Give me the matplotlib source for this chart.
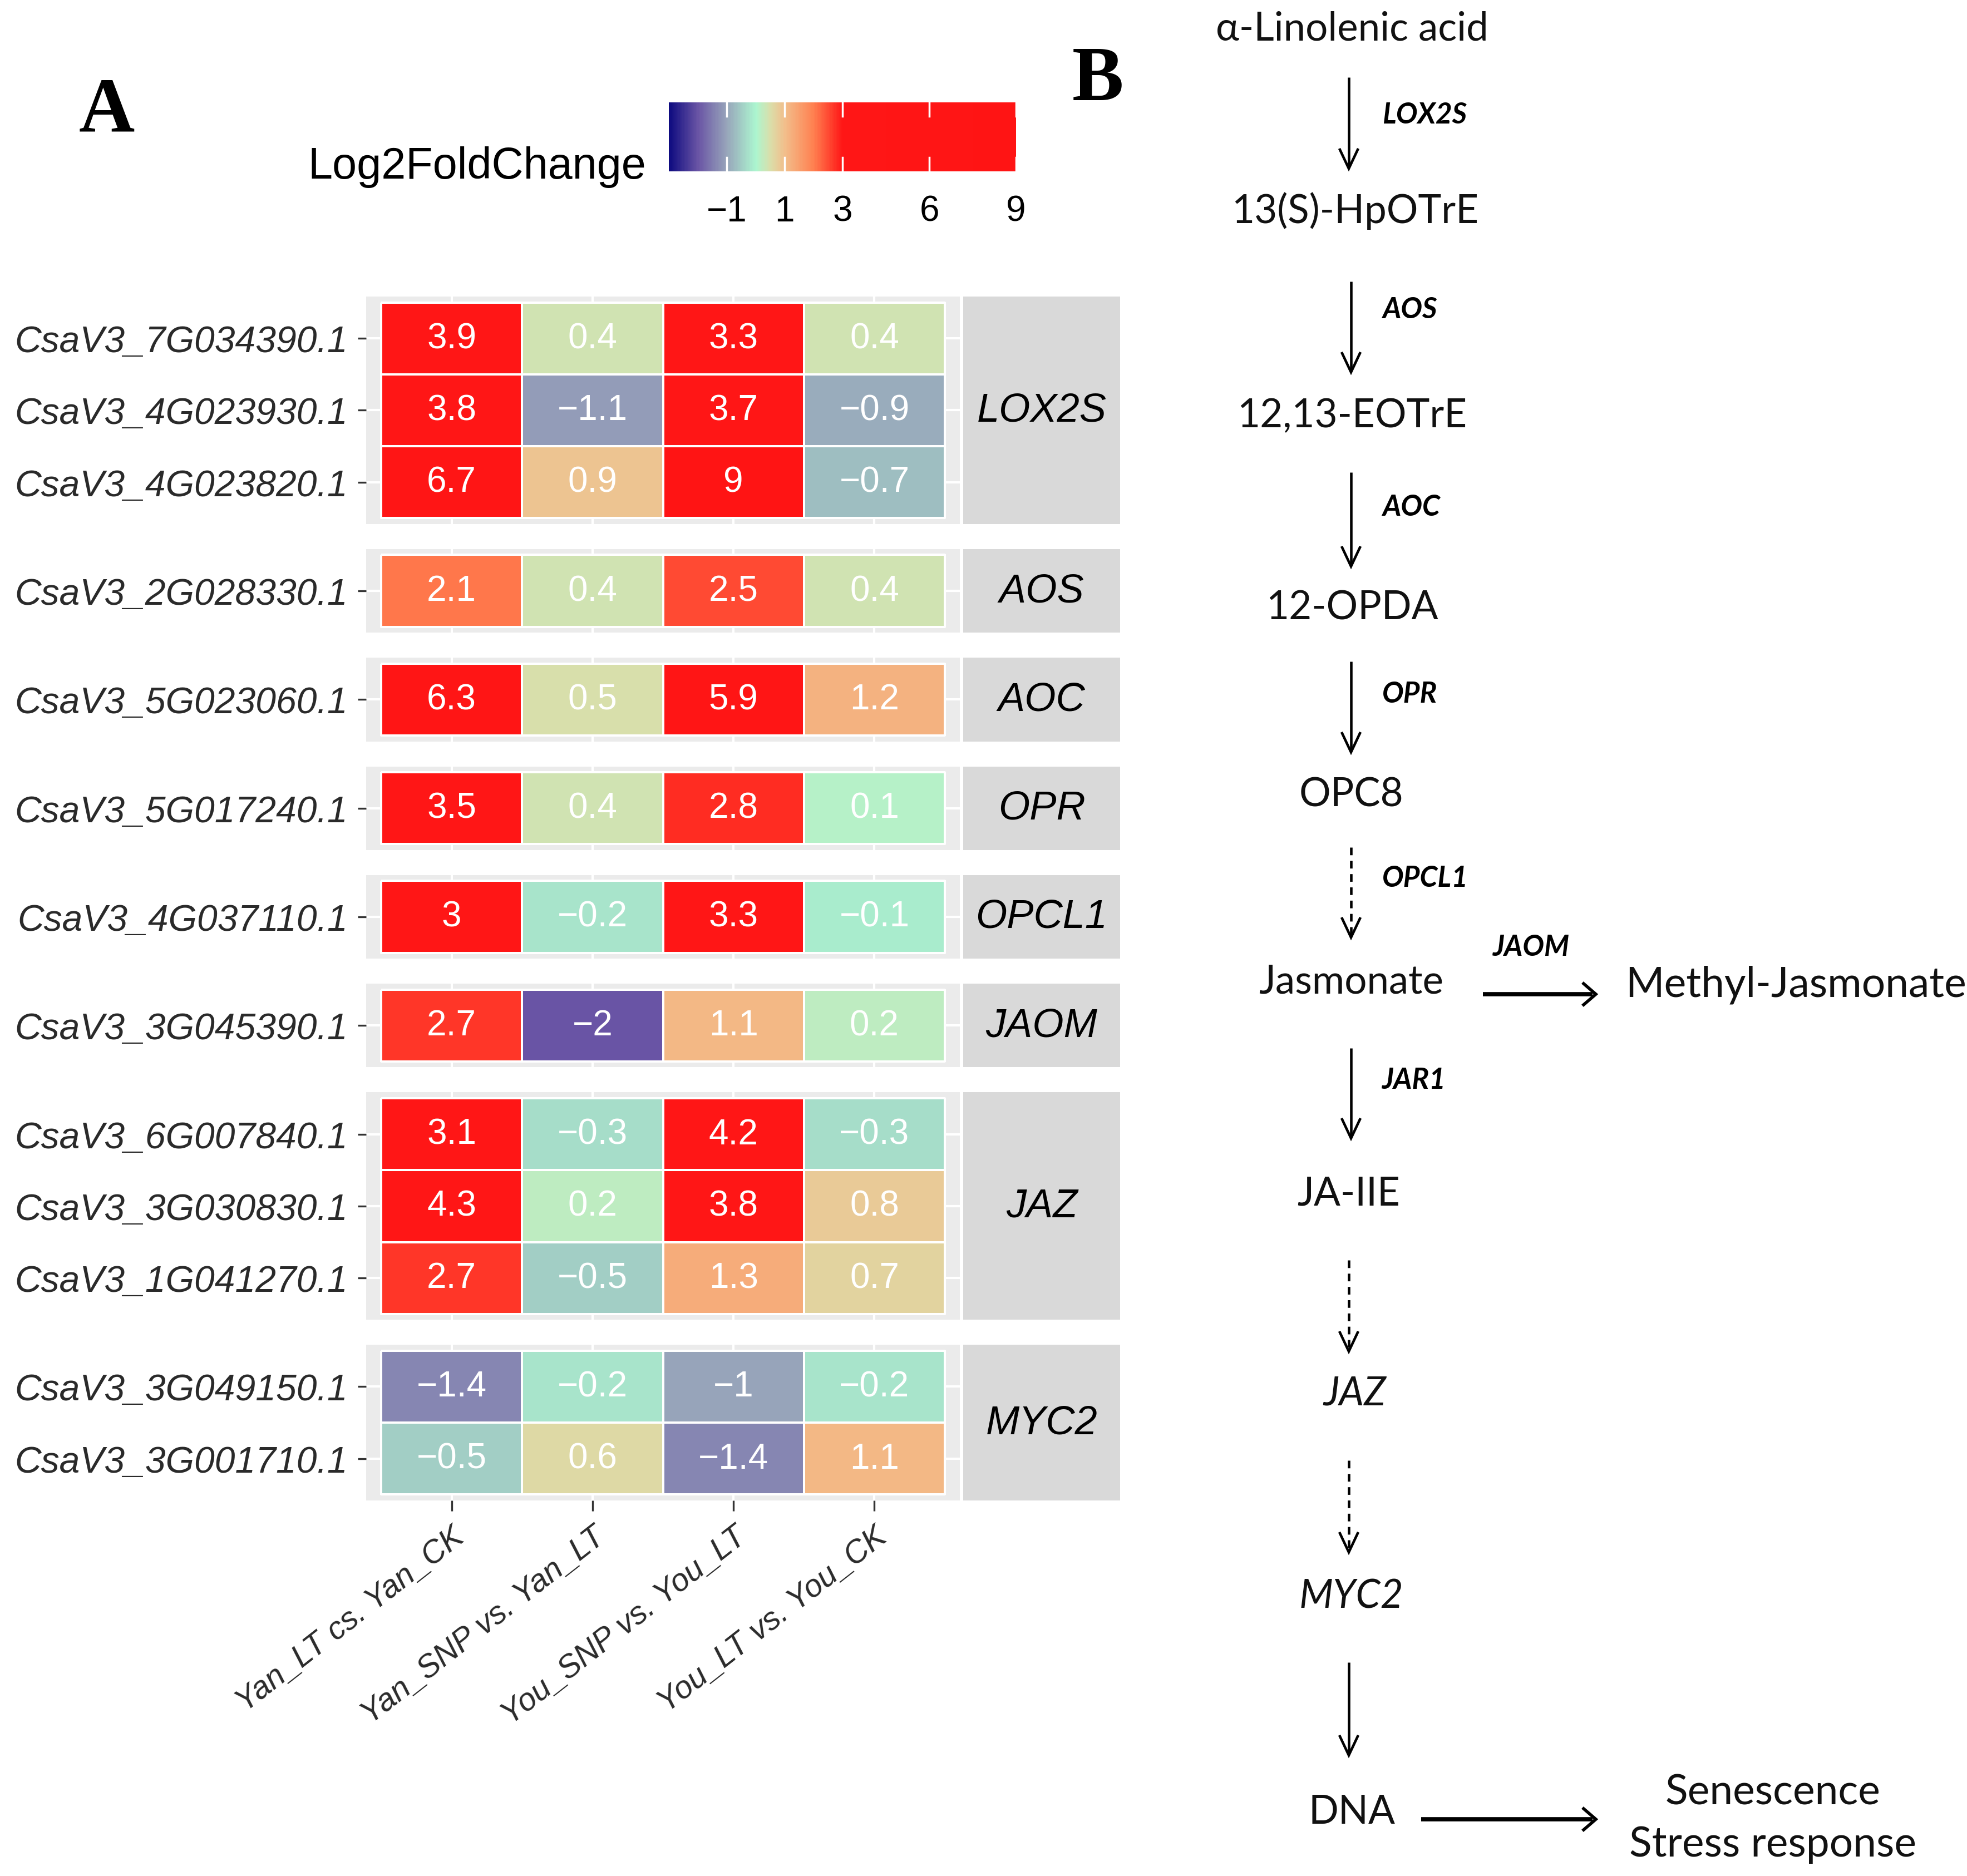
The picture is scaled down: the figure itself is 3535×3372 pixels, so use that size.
import numpy as np
import matplotlib
matplotlib.use("Agg")
import matplotlib.pyplot as plt
from matplotlib.colors import LinearSegmentedColormap, Normalize
import matplotlib.cm as cm

# ---------------- data ----------------
groups = ["LOX2S", "AOS", "AOC", "OPR", "OPCL1", "JAOM", "JAZ", "MYC2"]
group_genes = [
    ["CsaV3_7G034390.1", "CsaV3_4G023930.1", "CsaV3_4G023820.1"],
    ["CsaV3_2G028330.1"],
    ["CsaV3_5G023060.1"],
    ["CsaV3_5G017240.1"],
    ["CsaV3_4G037110.1"],
    ["CsaV3_3G045390.1"],
    ["CsaV3_6G007840.1", "CsaV3_3G030830.1", "CsaV3_1G041270.1"],
    ["CsaV3_3G049150.1", "CsaV3_3G001710.1"],
]
comparisons = ["Yan_LT cs. Yan_CK", "Yan_SNP vs. Yan_LT",
               "You_SNP vs. You_LT", "You_LT vs. You_CK"]
# values per comparison, in gene order (13 genes)
yan_lt_vs_ck   = [3.9, 3.8, 6.7, 2.1, 6.3, 3.5, 3.0, 2.7, 3.1, 4.3, 2.7, -1.4, -0.5]
yan_snp_vs_lt  = [0.4, -1.1, 0.9, 0.4, 0.5, 0.4, -0.2, -2.0, -0.3, 0.2, -0.5, -0.2, 0.6]
you_snp_vs_lt  = [3.3, 3.7, 9.0, 2.5, 5.9, 2.8, 3.3, 1.1, 4.2, 3.8, 1.3, -1.0, -1.4]
you_lt_vs_ck   = [0.4, -0.9, -0.7, 0.4, 1.2, 0.1, -0.1, 0.2, -0.3, 0.8, 0.7, -0.2, 1.1]
cbar_ticks = [-1, 1, 3, 6, 9]
VMIN, VMAX = -3, 9

values = np.array([yan_lt_vs_ck, yan_snp_vs_lt, you_snp_vs_lt, you_lt_vs_ck]).T

# pathway diagram content
metabolites = ["α-Linolenic acid", "13(S)-HpOTrE", "12,13-EOTrE", "12-OPDA", "OPC8",
               "Jasmonate", "JA-IIE", "JAZ", "MYC2", "DNA"]
enzymes = ["LOX2S", "AOS", "AOC", "OPR", "OPCL1", "JAR1", "", "", ""]
step_dashed = [False, False, False, False, True, False, True, True, False]

# ---------------- styling ----------------
W, H, DPI = 3535, 3373, 100
fig = plt.figure(figsize=(W / DPI, H / DPI), dpi=DPI)
fig.patch.set_facecolor("white")
SANS = ["Liberation Sans", "DejaVu Sans"]
PATH_FONT = ["Lato", "DejaVu Sans"]


def px_axes(x0, y0, x1, y1, **kw):
    return fig.add_axes([x0 / W, 1 - y1 / H, (x1 - x0) / W, (y1 - y0) / H], **kw)


stops = [(-3, "#0E0B80"), (-2, "#6A55A5"), (-1, "#98A6BA"), (0, "#ACF6D0"),
         (0.5, "#DADEAA"), (1, "#F2BE8B"), (2, "#FF8050"), (3, "#FF1616"), (9, "#FF1414")]
cmap = LinearSegmentedColormap.from_list(
    "l2fc", [((v - VMIN) / (VMAX - VMIN), c) for v, c in stops])
norm = Normalize(VMIN, VMAX)

# overlay axes in pixel coordinates
ax0 = fig.add_axes([0, 0, 1, 1])
ax0.set_xlim(0, W)
ax0.set_ylim(H, 0)
ax0.axis("off")
ax0.patch.set_alpha(0)


def fmt(v):
    s = f"{v:g}"
    return s.replace("-", "\u2212")


# ---------------- heatmap panels ----------------
row_pitch = 129.3
ey_px = 10.5
gap_px = 45
px_left, px_right = 658, 1725
cell_w = 254.25
ex = 27 / cell_w
strip_l, strip_r = 1731, 2013

y = 534
gi = 0
for k, (g, genes) in enumerate(zip(groups, group_genes)):
    n = len(genes)
    h = n * row_pitch + 2 * ey_px
    ax = px_axes(px_left, y, px_right, y + h)
    ax.set_facecolor("#EBEBEB")
    vals = values[gi:gi + n]
    ax.pcolormesh(np.arange(5) - 0.5, np.arange(n + 1) - 0.5, vals, cmap=cmap, norm=norm,
                  edgecolors="white", linewidth=1.6, zorder=2)
    for i in range(n):
        for j in range(4):
            ax.text(j, i, fmt(vals[i, j]), ha="center", va="center", color="white",
                    fontsize=46, family=SANS, zorder=3)
    ax.set_xlim(-0.5 - ex, 3.5 + ex)
    ey = ey_px / row_pitch
    ax.set_ylim(n - 0.5 + ey, -0.5 - ey)
    ax.set_xticks(range(4))
    ax.set_yticks(range(n))
    ax.grid(True, color="white", lw=3.0, zorder=1)
    ax.set_axisbelow(True)
    for sp in ax.spines.values():
        sp.set_visible(False)
    ax.set_yticklabels(genes, fontstyle="italic", fontsize=47.5, color="#2A2A2A", family=SANS)
    ax.tick_params(axis="y", length=10.5, width=2.4, color="#333333", pad=13)
    if k == len(groups) - 1:
        ax.set_xticklabels(comparisons, rotation=38, ha="right", va="top",
                           rotation_mode="anchor", fontstyle="italic", fontsize=41,
                           color="#2A2A2A", family=SANS)
        ax.tick_params(axis="x", length=14, width=2.4, color="#333333", pad=13)
    else:
        ax.tick_params(axis="x", length=0, labelbottom=False)
    # strip
    sax = px_axes(strip_l, y, strip_r, y + h)
    sax.set_facecolor("#D9D9D9")
    sax.set_xticks([])
    sax.set_yticks([])
    for sp in sax.spines.values():
        sp.set_visible(False)
    sax.text(0.5, 0.5, g, transform=sax.transAxes, ha="center", va="center",
             fontsize=52, fontstyle="italic", color="black", family=SANS)
    gi += n
    y += h + gap_px

# ---------------- colour bar ----------------
cax = px_axes(1202, 185, 1826, 309)
sm = cm.ScalarMappable(norm=norm, cmap=cmap)
cb = fig.colorbar(sm, cax=cax, orientation="horizontal", ticks=cbar_ticks)
cb.outline.set_visible(False)
cax.tick_params(length=0, pad=30, labelsize=46)
for lab in cax.get_xticklabels():
    lab.set_family(SANS)
for t in cbar_ticks:
    cax.axvline(t, ymin=0, ymax=0.2, color="white", lw=2.5)
    cax.axvline(t, ymin=0.8, ymax=1, color="white", lw=2.5)
ax0.text(1161, 300, "Log2FoldChange", ha="right", va="center", fontsize=57,
         family=SANS, color="black")

# panel letters
ax0.text(192, 203, "A", ha="center", va="center", fontsize=100,
         family=["Liberation Serif", "DejaVu Serif"], fontweight="bold")
ax0.text(1973, 147, "B", ha="center", va="center", fontsize=100,
         family=["Liberation Serif", "DejaVu Serif"], fontweight="bold")

# ---------------- pathway ----------------
met_pos = [(2430, 52), (2435, 379), (2430, 748), (2430, 1093), (2428, 1429),
           (2428, 1765), (2424, 2146), (2435, 2505), (2428, 2870), (2430, 3258)]
for name, (mx, my) in zip(metabolites, met_pos):
    ital = name in ("JAZ", "MYC2")
    ax0.text(mx, my, name, ha="center", va="center", fontsize=51, family=PATH_FONT,
             fontstyle="italic" if ital else "normal", color="#111111")

arrow_geo = [(2424, 140, 304, 207), (2428, 507, 670, 557), (2428, 850, 1019, 913),
             (2428, 1190, 1353, 1249), (2428, 1524, 1686, 1580), (2428, 1885, 2047, 1943),
             (2424, 2266, 2430, None), (2424, 2626, 2791, None), (2424, 2989, 3156, None)]
for (ax_x, y0, y1, ly), enz, dashed in zip(arrow_geo, enzymes, step_dashed):
    ls = (0, (3, 2.2)) if dashed else "-"
    lw = 3.3
    ax0.plot([ax_x, ax_x], [y0, y1 - 3], color="black", lw=lw, ls=ls, solid_capstyle="butt")
    ax0.plot([ax_x - 16, ax_x, ax_x + 16], [y1 - 34, y1, y1 - 34], color="black", lw=lw,
             solid_joinstyle="miter")
    if enz:
        ax0.text(2484, ly, enz, ha="left", va="center", fontsize=37, family=PATH_FONT,
                 fontstyle="italic", fontweight="bold", color="black")

# horizontal arrows
for (x0, x1, yy) in [(2665, 2868, 1788), (2554, 2868, 3271)]:
    ax0.plot([x0, x1 - 6], [yy, yy], color="black", lw=5.5, solid_capstyle="butt")
    ax0.plot([x1 - 22, x1, x1 - 22], [yy - 19, yy, yy + 19], color="black", lw=4.0,
             solid_joinstyle="miter")
ax0.text(2683, 1704, "JAOM", ha="left", va="center", fontsize=37, family=PATH_FONT,
         fontstyle="italic", fontweight="bold", color="black")
ax0.text(3228, 1770, "Methyl-Jasmonate", ha="center", va="center", fontsize=54,
         family=PATH_FONT, color="#111111")
ax0.text(3186, 3222, "Senescence", ha="center", va="center", fontsize=54,
         family=PATH_FONT, color="#111111")
ax0.text(3186, 3316, "Stress response", ha="center", va="center", fontsize=54,
         family=PATH_FONT, color="#111111")

fig.savefig("out.png", dpi=DPI, facecolor="white")
